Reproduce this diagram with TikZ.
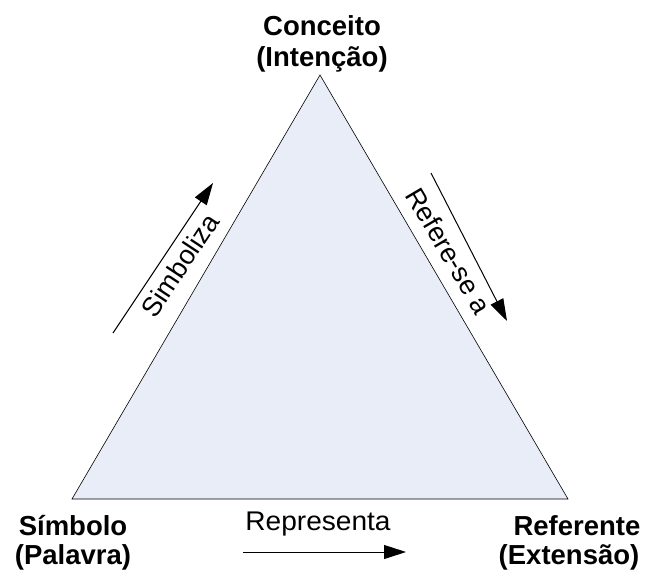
\documentclass[tikz,border=0pt]{standalone}
\usepackage{fontspec}
\setmainfont{Liberation Sans}
\usetikzlibrary{arrows.meta}
\definecolor{trifill}{HTML}{E8EDF7}
\begin{document}
\begin{tikzpicture}[x=1pt,y=-1pt,
  corner/.style={font=\bfseries\fontsize{27.5}{30}\selectfont, inner sep=0pt, anchor=base},
  rel/.style={font=\fontsize{27}{30}\selectfont, inner sep=0pt},
  relarrow/.style={draw=black, line width=1pt, -{Triangle[length=22pt,width=14pt]}}]
  \useasboundingbox (0,0) rectangle (648,576);
  % triangle
  \coordinate (top) at (320,75);
  \coordinate (bl) at (72,499);
  \coordinate (br) at (568,499);
  \draw[fill=trifill, line width=0.6pt] (top) -- (bl) -- (br) -- cycle;
  % vertex labels, one node per line
  \node[corner] (conceito) at (322,35) {Conceito};
  \node[corner] (intencao) at (322,66) {(Intenção)};
  \node[corner] (simbolo) at (73,535) {Símbolo};
  \node[corner] (palavra) at (73,564) {(Palavra)};
  \node[corner] (referente) at (577,535) {Referente};
  \node[corner] (extensao) at (569,564) {(Extensão)};
  % relation arrows with their labels
  \coordinate (s1) at (113,333);
  \coordinate (s2) at (213,183);
  \draw[relarrow] (s1) -- (s2);
  \node[rel, rotate=56.5] (simboliza) at (180,265) {Simboliza};
  \coordinate (r1) at (431,173);
  \coordinate (r2) at (507,321);
  \draw[relarrow] (r1) -- (r2);
  \node[rel, rotate=-59.5] (referese) at (449,251) {Refere-se a};
  \coordinate (p1) at (243,552);
  \coordinate (p2) at (406,552);
  \draw[relarrow] (p1) -- (p2);
  \node[rel, xscale=1.04, anchor=base] (representa) at (318,530) {Representa};
\end{tikzpicture}
\end{document}
